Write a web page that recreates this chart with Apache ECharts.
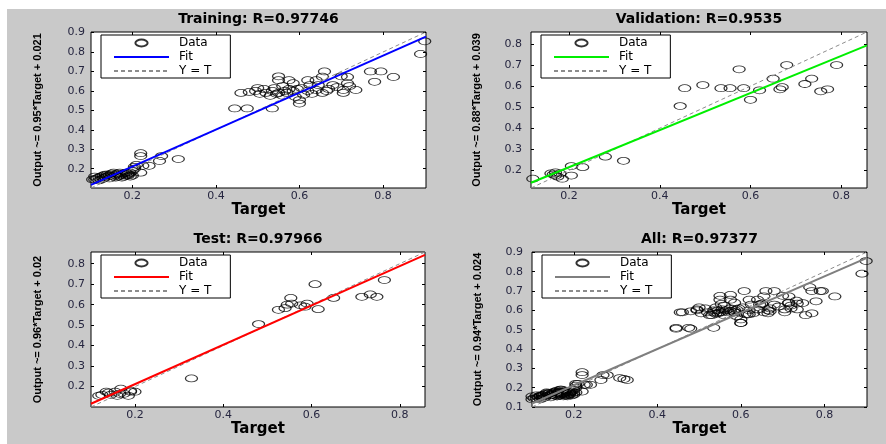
<!DOCTYPE html>
<html><head><meta charset="utf-8">
<script src="https://cdn.jsdelivr.net/npm/echarts@6/dist/echarts.min.js"></script>
<style>html,body{margin:0;padding:0;background:#fff}#c{width:886px;height:444px}</style>
</head><body><div id="c"></div>
<script>
// ---------------- data ----------------
const panelTitles = ['Training: R=0.97746', 'Validation: R=0.9535', 'Test: R=0.97966', 'All: R=0.97377'];
const yAxisNames = ['Output ~= 0.95*Target + 0.021', 'Output ~= 0.88*Target + 0.039', 'Output ~= 0.96*Target + 0.02', 'Output ~= 0.94*Target + 0.024'];
const xAxisName = 'Target';
const legendNames = ['Data', 'Fit', 'Y = T'];
const fitSlopes = [0.95, 0.88, 0.96, 0.94];
const fitIntercepts = [0.021, 0.039, 0.02, 0.024];
const axisMins = [0.101, 0.116, 0.1004, 0.1];
const axisMaxs = [0.903, 0.857, 0.857, 0.902];
const xTickValues = [0.2, 0.4, 0.6, 0.8];
const yTickValuesTraining = [0.2, 0.3, 0.4, 0.5, 0.6, 0.7, 0.8, 0.9];
const yTickValuesValidation = [0.2, 0.3, 0.4, 0.5, 0.6, 0.7, 0.8];
const yTickValuesTest = [0.1, 0.2, 0.3, 0.4, 0.5, 0.6, 0.7, 0.8];
const yTickValuesAll = [0.1, 0.2, 0.3, 0.4, 0.5, 0.6, 0.7, 0.8, 0.9];

const trainingData = [
  [0.900,0.855],[0.890,0.790],[0.825,0.672],[0.795,0.700],[0.770,0.700],[0.780,0.647],[0.735,0.605],[0.705,0.605],
  [0.705,0.590],[0.715,0.640],[0.700,0.675],[0.715,0.672],[0.660,0.700],[0.655,0.673],[0.665,0.600],[0.645,0.630],
  [0.640,0.605],[0.625,0.630],[0.620,0.600],[0.600,0.553],[0.600,0.535],[0.590,0.570],[0.565,0.600],[0.620,0.655],
  [0.640,0.655],[0.610,0.580],[0.630,0.585],[0.680,0.630],[0.690,0.620],[0.585,0.640],[0.575,0.655],[0.560,0.625],
  [0.550,0.655],[0.550,0.675],[0.540,0.615],[0.535,0.600],[0.530,0.575],[0.520,0.590],[0.515,0.610],[0.505,0.585],
  [0.495,0.600],[0.500,0.615],[0.460,0.590],[0.480,0.595],[0.445,0.510],[0.475,0.510],[0.535,0.510],[0.570,0.590],
  [0.585,0.600],[0.595,0.610],[0.605,0.615],[0.550,0.590],[0.560,0.575],[0.545,0.585],[0.575,0.610],[0.655,0.590],
  [0.670,0.610],[0.720,0.625],
  [0.220,0.280],[0.220,0.265],[0.270,0.265],[0.310,0.250],[0.265,0.240],[0.240,0.215],[0.225,0.215],[0.210,0.220],
  [0.205,0.200],[0.220,0.180],[0.200,0.190],[0.190,0.170],[0.195,0.160],[0.205,0.210],
  [0.100,0.155],[0.105,0.145],[0.110,0.160],[0.115,0.150],[0.120,0.140],[0.120,0.155],[0.125,0.160],[0.130,0.150],
  [0.130,0.165],[0.135,0.155],[0.140,0.160],[0.140,0.170],[0.145,0.150],[0.150,0.165],[0.150,0.175],[0.155,0.160],
  [0.160,0.170],[0.160,0.155],[0.165,0.175],[0.170,0.165],[0.170,0.180],[0.175,0.170],[0.180,0.160],[0.180,0.175],
  [0.185,0.180],[0.190,0.165],[0.190,0.175],[0.195,0.180],[0.200,0.165],[0.155,0.180],[0.145,0.165],[0.110,0.145],
  [0.100,0.140],[0.125,0.145],[0.135,0.170],[0.165,0.160],[0.175,0.155],[0.185,0.165]
];
const validationData = [
  [0.790,0.700],[0.680,0.700],[0.575,0.680],[0.650,0.635],[0.735,0.635],[0.720,0.610],[0.770,0.585],[0.755,0.575],
  [0.665,0.585],[0.670,0.595],[0.620,0.580],[0.600,0.535],[0.585,0.590],[0.555,0.590],[0.535,0.590],[0.495,0.605],
  [0.455,0.590],[0.445,0.505],[0.320,0.245],[0.280,0.265],[0.230,0.215],[0.205,0.220],[0.205,0.175],[0.185,0.160],
  [0.180,0.185],[0.170,0.190],[0.165,0.180],[0.170,0.175],[0.175,0.170],[0.120,0.160],[0.160,0.185]
];
const testData = [
  [0.765,0.720],[0.733,0.650],[0.714,0.638],[0.748,0.638],[0.650,0.633],[0.608,0.700],[0.615,0.578],[0.590,0.605],
  [0.585,0.590],[0.575,0.597],[0.553,0.633],[0.555,0.605],[0.545,0.600],[0.540,0.583],[0.525,0.575],[0.480,0.505],
  [0.328,0.240],[0.200,0.175],[0.190,0.175],[0.168,0.190],[0.165,0.165],[0.155,0.175],[0.145,0.160],[0.140,0.170],
  [0.125,0.160],[0.118,0.155],[0.175,0.165],[0.160,0.155],[0.185,0.155],[0.190,0.180],[0.135,0.175]
];
const allData = trainingData.concat(validationData, testData);
const panelData = [trainingData, validationData, testData, allData];
const panelYTicks = [yTickValuesTraining, yTickValuesValidation, yTickValuesTest, yTickValuesAll];

// ---------------- layout / style ----------------
const grids = [
  {left: 91, top: 32, width: 335, height: 156},
  {left: 531, top: 32, width: 336, height: 156},
  {left: 91, top: 252, width: 334, height: 155},
  {left: 532, top: 252, width: 335, height: 155}
];
const fitColors = ['#0000ff', '#00ee00', '#ff0000', '#7f7f7f'];
const tickColor = '#262640';
const ellipse = 'path://M0,4A7,4 0 1,1 14,4A7,4 0 1,1 0,4Z';
const clear = 'rgba(0,0,0,0)';

const option = {
  animation: false,
  backgroundColor: '#ffffff',
  graphic: [{type: 'rect', left: 7, top: 9, shape: {width: 879, height: 435}, style: {fill: '#c9c9c9'}, z: -10, silent: true}],
  title: [], grid: [], xAxis: [], yAxis: [], series: [], legend: []
};

for (let i = 0; i < 4; i++) {
  const g = grids[i];
  const mn = axisMins[i], mx = axisMaxs[i];
  option.grid.push({left: g.left, top: g.top, width: g.width, height: g.height, show: true,
    backgroundColor: '#ffffff', borderColor: '#000000', borderWidth: 1, containLabel: false});
  option.title.push({text: panelTitles[i], left: g.left + g.width / 2, top: g.top - 20, textAlign: 'center', padding: 0,
    textStyle: {fontFamily: 'DejaVu Sans', fontWeight: 'bold', fontSize: 14, color: '#000'}});
  const common = {type: 'value', gridIndex: i, min: mn, max: mx, splitLine: {show: false},
    axisLine: {show: false}, axisTick: {show: true, inside: true, length: 3, lineStyle: {color: '#000'}}};
  option.xAxis.push(Object.assign({}, common, {position: 'bottom',
    name: xAxisName, nameLocation: 'middle', nameGap: 12,
    nameTextStyle: {fontFamily: 'DejaVu Sans', fontWeight: 'bold', fontSize: 15, color: '#000'},
    axisTick: Object.assign({}, common.axisTick, {customValues: xTickValues}),
    axisLabel: {customValues: xTickValues, margin: 3, fontFamily: 'DejaVu Sans', fontSize: 11, color: tickColor,
      formatter: v => v.toFixed(1)}}));
  option.xAxis.push(Object.assign({}, common, {position: 'top',
    axisTick: Object.assign({}, common.axisTick, {customValues: xTickValues}), axisLabel: {show: false}}));
  option.yAxis.push(Object.assign({}, common, {position: 'left',
    name: yAxisNames[i], nameLocation: 'middle', nameGap: (i % 2 === 0) ? 48 : 49,
    nameTextStyle: {fontFamily: 'Liberation Sans', fontWeight: 'bold', fontSize: 11, color: '#000'},
    axisTick: Object.assign({}, common.axisTick, {customValues: panelYTicks[i]}),
    axisLabel: {customValues: panelYTicks[i], margin: (i % 2 === 0) ? 6 : 9, fontFamily: 'DejaVu Sans', fontSize: 11, color: tickColor,
      formatter: v => v.toFixed(1)}}));
  option.yAxis.push(Object.assign({}, common, {position: 'right',
    axisTick: Object.assign({}, common.axisTick, {customValues: panelYTicks[i]}), axisLabel: {show: false}}));

  const xi = 2 * i;
  option.series.push({type: 'scatter', name: 'Data#' + i, xAxisIndex: xi, yAxisIndex: xi, data: panelData[i],
    symbol: ellipse, symbolSize: [12, 7], z: 2,
    itemStyle: {color: clear, borderColor: '#000000', borderWidth: 1}});
  option.series.push({type: 'line', name: 'Fit#' + i, xAxisIndex: xi, yAxisIndex: xi, symbol: 'none', z: 4,
    data: [[mn, fitSlopes[i] * mn + fitIntercepts[i]], [mx, fitSlopes[i] * mx + fitIntercepts[i]]],
    lineStyle: {color: fitColors[i], width: 2}, itemStyle: {color: clear, borderColor: clear, borderWidth: 0}});
  option.series.push({type: 'line', name: 'Y = T#' + i, xAxisIndex: xi, yAxisIndex: xi, symbol: 'none', z: 3,
    data: [[mn, mn], [mx, mx]],
    lineStyle: {color: '#8c8c8c', width: 1, type: [4, 3]}, itemStyle: {color: clear, borderColor: clear, borderWidth: 0}});

  option.legend.push({
    data: [
      {name: 'Data#' + i},
      {name: 'Fit#' + i, itemStyle: {color: clear, borderColor: clear, borderWidth: 0}},
      {name: 'Y = T#' + i, itemStyle: {color: clear, borderColor: clear, borderWidth: 0}}
    ],
    orient: 'vertical',
    left: g.left + 10, top: g.top + 3, itemWidth: 55, itemHeight: 7, itemGap: 2,
    padding: [2, 19, 1, 12], backgroundColor: '#ffffff', borderColor: '#000000', borderWidth: 1, borderRadius: 0,
    selectedMode: false, formatter: name => name.split('#')[0],
    textStyle: {fontFamily: 'DejaVu Sans', fontSize: 12, lineHeight: 11, color: '#000', padding: [0, 0, 0, 5]}});
}

const chart = echarts.init(document.getElementById('c'));
chart.setOption(option);
</script></body></html>
